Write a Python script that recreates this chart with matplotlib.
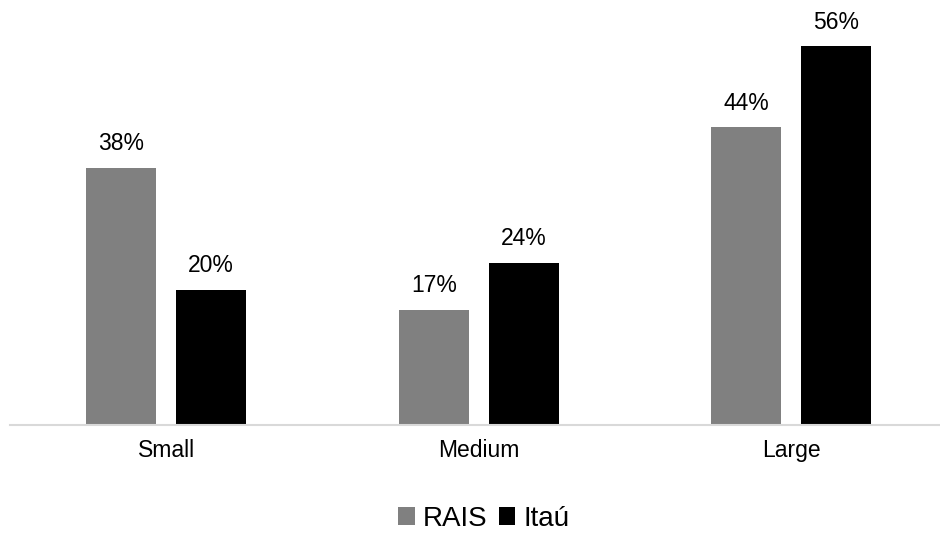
import matplotlib
matplotlib.use("Agg")
import matplotlib.pyplot as plt
import numpy as np

plt.rcParams['font.family'] = ['Liberation Sans', 'DejaVu Sans']

categories = ["Small", "Medium", "Large"]
rais = [38, 17, 44]
itau = [20, 24, 56]
series_names = ["RAIS", "Itaú"]
colors = ["#808080", "#000000"]

W, H = 940, 534
fig = plt.figure(figsize=(W / 100, H / 100), dpi=100)
ax = fig.add_axes([10 / W, 109 / H, 937.5 / W, 425 / H])

x = np.arange(len(categories))
bw = 0.224
off = 0.144
b1 = ax.bar(x - off, rais, bw, color=colors[0], label=series_names[0])
b2 = ax.bar(x + off, itau, bw, color=colors[1], label=series_names[1])

for bars, vals in ((b1, rais), (b2, itau)):
    for rect, v in zip(bars, vals):
        ax.annotate(f"{v}%", (rect.get_x() + rect.get_width() / 2, v),
                    xytext=(0, 9), textcoords="offset points",
                    ha="center", va="bottom", fontsize=16.5, color="black")

ax.set_xlim(-0.5, 2.5)
ax.set_ylim(0, 62.8)
ax.set_xticks(x)
ax.set_xticklabels(categories, fontsize=16.5, color="black")
ax.tick_params(axis="x", length=0, pad=10)
ax.set_yticks([])
for s in ("top", "right", "left"):
    ax.spines[s].set_visible(False)
ax.spines["bottom"].set_color("#d9d9d9")
ax.spines["bottom"].set_linewidth(1.5)

fig.legend(handles=[b1, b2], labels=series_names, loc="center",
           bbox_to_anchor=(484 / W, 15 / H), ncol=2, frameon=False,
           fontsize=20, handlelength=0.6, handleheight=0.6,
           handletextpad=0.3, columnspacing=0.4)

fig.savefig("out.png", dpi=100)
